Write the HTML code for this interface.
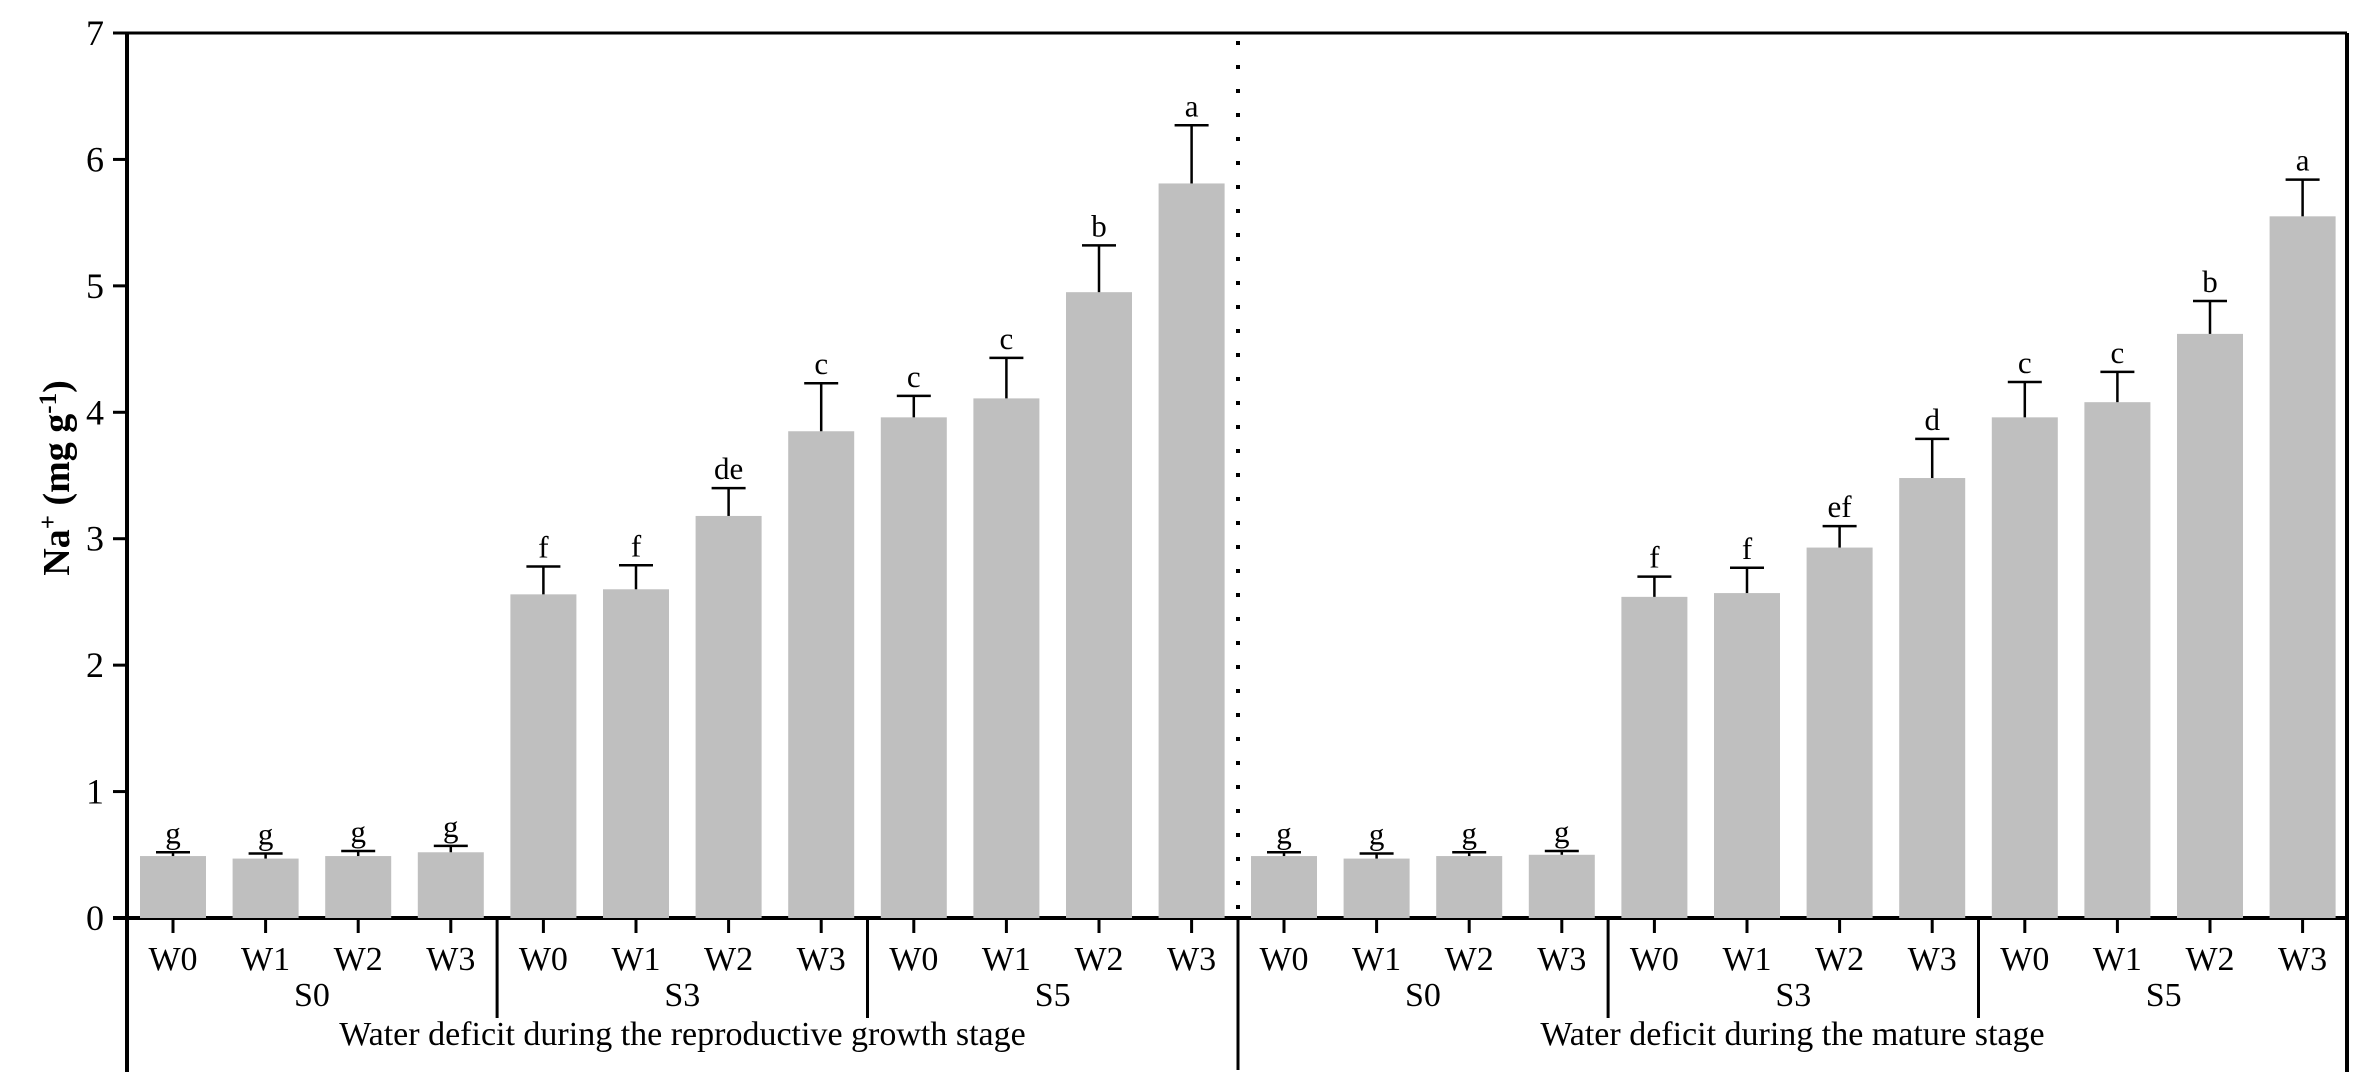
<!DOCTYPE html>
<html><head><meta charset="utf-8"><style>
html,body{margin:0;padding:0;background:#fff;}
svg{display:block;font-family:"Liberation Serif",serif;}
</style></head><body>
<svg id="chart" width="2379" height="1091" viewBox="0 0 2379 1091" xmlns="http://www.w3.org/2000/svg">
<g id="frame"></g>
<g id="bars"></g>
<g id="labels"></g>
</svg>
<script>
const treatments = ["W0","W1","W2","W3"];
const salinity = ["S0","S3","S5"];
const stages = ["Water deficit during the reproductive growth stage","Water deficit during the mature stage"];
const reproValues = [0.49,0.47,0.49,0.52,2.56,2.60,3.18,3.85,3.96,4.11,4.95,5.81];
const reproErrors = [0.03,0.04,0.04,0.05,0.22,0.19,0.22,0.38,0.17,0.32,0.37,0.46];
const reproLetters = ["g","g","g","g","f","f","de","c","c","c","b","a"];
const matureValues = [0.49,0.47,0.49,0.50,2.54,2.57,2.93,3.48,3.96,4.08,4.62,5.55];
const matureErrors = [0.03,0.04,0.03,0.03,0.16,0.20,0.17,0.31,0.28,0.24,0.26,0.29];
const matureLetters = ["g","g","g","g","f","f","ef","d","c","c","b","a"];
const yTicks = [0,1,2,3,4,5,6,7];

const NS="http://www.w3.org/2000/svg";
const X0=127, XR=2347, Y0=918, YT=33, DIV=1238, PITCH=92.6, BW=66;
const yScale = v => Y0 - v*(Y0-YT)/7;
const xCenter = (half,i) => (half===0?173:1284) + PITCH*i;
function mk(tag,attrs,parent,text){const e=document.createElementNS(NS,tag);for(const k in attrs)e.setAttribute(k,attrs[k]);if(text!==undefined)e.textContent=text;parent.appendChild(e);return e;}
const frame=document.getElementById('frame'), barsG=document.getElementById('bars'), lab=document.getElementById('labels');

let l;
l=mk('line',{x1:X0,y1:YT,x2:X0,y2:1072,stroke:'#000','stroke-width':4},frame);


l=mk('line',{x1:X0-14,y1:YT,x2:XR,y2:YT,stroke:'#000','stroke-width':3},frame);


l=mk('line',{x1:XR,y1:YT,x2:XR,y2:1072,stroke:'#000','stroke-width':4},frame);


l=mk('line',{x1:X0-14,y1:Y0,x2:XR,y2:Y0,stroke:'#000','stroke-width':4},frame);


l=mk('line',{x1:DIV,y1:YT+8,x2:DIV,y2:Y0,stroke:'#000','stroke-width':4,'stroke-dasharray':'4 20'},frame);


l=mk('line',{x1:DIV,y1:Y0,x2:DIV,y2:1070,stroke:'#000','stroke-width':3},frame);



yTicks.forEach(t=>{
  const y=yScale(t);
  const tk=mk('line',{x1:X0-14,y1:y,x2:X0,y2:y,stroke:'#000','stroke-width':3},frame);
  
  
  const tx=mk('text',{x:104,y:y+12,'font-size':36,'text-anchor':'end'},lab,String(t));
  
  
});

const yt=mk('text',{transform:'translate(69,478) rotate(-90)','font-size':38,'font-weight':'bold','text-anchor':'middle'},lab);


yt.innerHTML='Na<tspan baseline-shift="super" font-size="25">+</tspan> (mg g<tspan baseline-shift="super" font-size="25">-1</tspan>)';

const halves=[[reproValues,reproErrors,reproLetters],[matureValues,matureErrors,matureLetters]];
halves.forEach((h,half)=>{
  const [vals,errs,lets]=h;
  vals.forEach((v,i)=>{
    const cx=xCenter(half,i), yt=yScale(v), ye=yScale(v+errs[i]);
    const r=mk('rect',{x:cx-BW/2,y:yt,width:BW,height:Y0-yt,fill:'#bfbfbf'},barsG);
    
    
    const e1=mk('line',{x1:cx,y1:yt,x2:cx,y2:ye,stroke:'#000','stroke-width':2.5},barsG);
    
    
    const e2=mk('line',{x1:cx-17,y1:ye,x2:cx+17,y2:ye,stroke:'#000','stroke-width':2.5},barsG);
    
    
    const lt=mk('text',{x:cx,y:ye-9,'font-size':31,'text-anchor':'middle'},lab,lets[i]);
    
    
    const tk=mk('line',{x1:cx,y1:Y0,x2:cx,y2:933,stroke:'#000','stroke-width':3},frame);
    
    
    const wl=mk('text',{x:cx,y:970,'font-size':34,'text-anchor':'middle'},lab,treatments[i%4]);
    
    
  });
  salinity.forEach((s,g)=>{
    const c=(xCenter(half,g*4+1)+xCenter(half,g*4+2))/2;
    const sl=mk('text',{x:c,y:1006,'font-size':34,'text-anchor':'middle'},lab,s);
    
    
    if(g>0){
      const sx=(xCenter(half,g*4-1)+xCenter(half,g*4))/2;
      const sep=mk('line',{x1:sx,y1:Y0,x2:sx,y2:1018,stroke:'#000','stroke-width':3},frame);
      
      
    }
  });
  const sc = half===0 ? (X0+DIV)/2 : (DIV+XR)/2;
  const st=mk('text',{x:sc,y:1045,'font-size':34,'text-anchor':'middle'},lab,stages[half]);
  
  
});
</script>
</body></html>
